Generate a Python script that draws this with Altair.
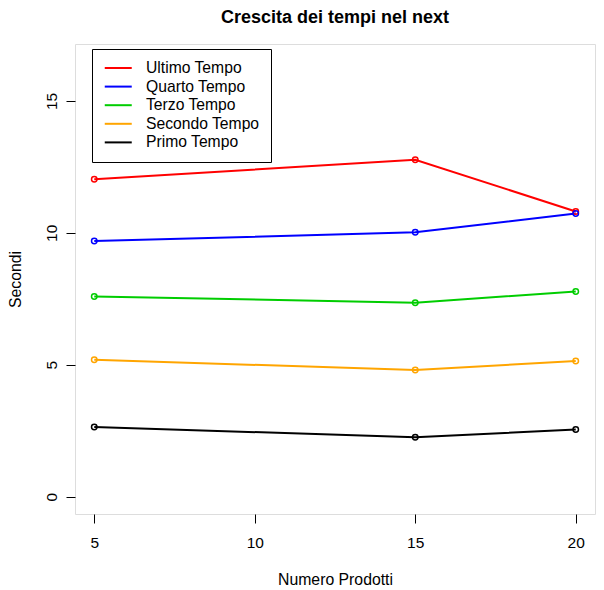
import altair as alt
import pandas as pd

x_vals = [5, 15, 20]
ultimo = [12.03, 12.77, 10.81]
quarto = [9.69, 10.02, 10.73]
terzo = [7.59, 7.35, 7.78]
secondo = [5.19, 4.80, 5.14]
primo = [2.64, 2.25, 2.54]

series_names = ["Ultimo Tempo", "Quarto Tempo", "Terzo Tempo", "Secondo Tempo", "Primo Tempo"]
series_vals = [ultimo, quarto, terzo, secondo, primo]
series_colors = ["#FF0000", "#0000FF", "#00CD00", "#FFA500", "#000000"]

rows = []
for name, vals in zip(series_names, series_vals):
    for xv, yv in zip(x_vals, vals):
        rows.append({"x": xv, "y": yv, "serie": name})
df = pd.DataFrame(rows)

FONT = "Liberation Sans"

xs = alt.X("x:Q", scale=alt.Scale(domain=[4.4, 20.6], nice=False, zero=False),
           axis=alt.Axis(values=[5, 10, 15, 20], title="Numero Prodotti", grid=False, domain=False,
                         tickSize=9, tickColor="#000", labelPadding=24, labelBaseline="alphabetic",
                         labelFontSize=15.5, labelColor="#000", labelFont=FONT, labelFlush=False,
                         titleFont=FONT, titleFontSize=15.8, titleFontWeight="normal", titleColor="#000",
                         titleBaseline="alphabetic", titleY=70))
ys = alt.Y("y:Q", scale=alt.Scale(domain=[-0.66, 17.16], nice=False, zero=False),
           axis=alt.Axis(values=[0, 5, 10, 15], title="Secondi", grid=False, domain=False,
                         tickSize=9, tickColor="#000", labelPadding=10, labelAngle=270,
                         labelAlign="center", labelBaseline="alphabetic",
                         labelFontSize=15.5, labelColor="#000", labelFont=FONT, labelFlush=False,
                         titleFont=FONT, titleFontSize=15.8, titleFontWeight="normal", titleColor="#000",
                         titleBaseline="alphabetic", titleX=-55, titleAngle=270))

color = alt.Color("serie:N", scale=alt.Scale(domain=series_names, range=series_colors),
                  legend=alt.Legend(title=None, orient="none", legendX=17, legendY=5,
                                    symbolType="M-2,0H2", symbolSize=182.25, symbolStrokeWidth=2,
                                    symbolOffset=7.25,
                                    strokeColor="#000", fillColor="white", padding=11,
                                    labelFont=FONT, labelFontSize=15.7, labelColor="#000",
                                    labelOffset=19.75, rowPadding=2.6, labelLimit=300))

base = alt.Chart(df)
lines = base.mark_line(strokeWidth=2).encode(x=xs, y=ys, color=color, detail="serie:N")
points = base.mark_point(shape="circle", filled=False, size=30, strokeWidth=1.5, opacity=1).encode(
    x=xs, y=ys, color=alt.Color("serie:N", scale=alt.Scale(domain=series_names, range=series_colors), legend=None))

chart = alt.layer(lines, points).properties(
    width=520, height=470,
    title=alt.TitleParams("Crescita dei tempi nel next", font=FONT, fontSize=18, fontWeight="bold",
                          color="#000", anchor="middle", frame="group", baseline="alphabetic", offset=3),
    padding={"left": 67, "top": 36, "right": 1, "bottom": 74},
    autosize=alt.AutoSizeParams(type="none"),
).configure_view(stroke="#000", strokeWidth=1).configure(background="white")

chart.save("out.html", embed_options={"renderer": "svg", "actions": False})
